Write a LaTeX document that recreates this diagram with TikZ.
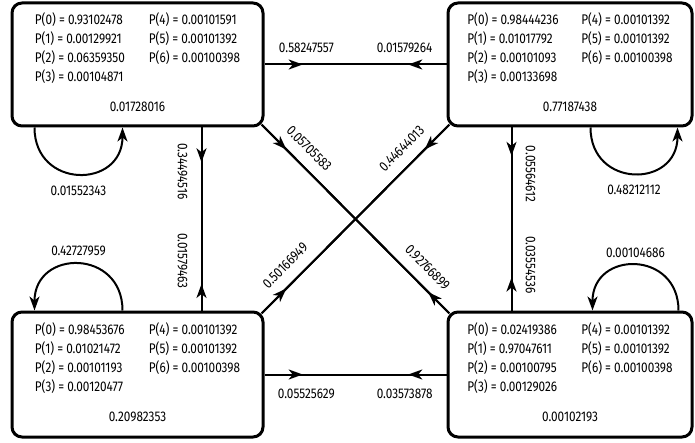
\documentclass[tikz,border=0pt]{standalone}
\usepackage{fontspec}
\setmainfont[FakeStretch=0.84]{Fira Sans}
\usepackage{tikz}
\usetikzlibrary{arrows.meta}
\usetikzlibrary{decorations.markings}

\newcommand{\statetext}[8]{%
  \raisebox{-2pt}{\begin{tabular}{@{}p{114pt}@{}l@{}}
    P(0) = #1 & P(4) = #5\\
    P(1) = #2 & P(5) = #6\\
    P(2) = #3 & P(6) = #7\\
    P(3) = #4 & \\[11pt]
    \multicolumn{2}{c}{#8}
  \end{tabular}}}

\begin{document}
\begin{tikzpicture}[x=1pt,y=1pt,font=\fontsize{14}{19}\selectfont,
	statebox/.style={draw,line width=3pt,rounded corners=10pt,minimum width=244pt,minimum height=123pt,inner sep=0pt},
	link/.style={line width=2pt},
	headat/.style={postaction={decorate},decoration={markings,mark=at position #1 with {\arrow{Stealth[length=14pt,width=10pt,inset=4pt]}}}},
	lab/.style={inner sep=0pt}]
	\useasboundingbox (0,0) rectangle (695,-443);
	% states
	\node[statebox,minimum width=251pt] (s0) at (137.5,-64.5) {\statetext{0.93102478}{0.00129921}{0.06359350}{0.00104871}{0.00101591}{0.00101392}{0.00100398}{0.01728016}};
	\node[statebox] (s1) at (570,-64.5) {\statetext{0.98444236}{0.01017792}{0.00101093}{0.00133698}{0.00101392}{0.00101392}{0.00100398}{0.77187438}};
	\node[statebox,minimum width=251pt,minimum height=125pt] (s2) at (137.5,-374.5) {\statetext{0.98453676}{0.01021472}{0.00101193}{0.00120477}{0.00101392}{0.00101392}{0.00100398}{0.20982353}};
	\node[statebox,minimum height=125pt] (s3) at (570,-374.5) {\statetext{0.02419386}{0.97047611}{0.00100795}{0.00129026}{0.00101392}{0.00101392}{0.00100398}{0.00102193}};
	% horizontal links
	\draw[link,headat=0.21] (s0) -- node[lab,pos=0.23,above=11pt] {0.58247557} (s1);
	\draw[link,headat=0.21] (s1) -- node[lab,pos=0.23,above=11pt] {0.01579264} (s0);
	\draw[link,headat=0.21] (s2) -- node[lab,pos=0.23,below=13pt] {0.05525629} (s3);
	\draw[link,headat=0.21] (s3) -- node[lab,pos=0.23,below=13pt] {0.03573878} (s2);
	% vertical links
	\draw[link,headat=0.19] ([xshift=-63pt]s0.south east) -- node[lab,pos=0.24,xshift=-19pt,rotate=-90] {0.34494516} ([xshift=-63pt]s2.north east);
	\draw[link,headat=0.145] ([xshift=-63pt]s2.north east) -- node[lab,pos=0.27,xshift=-19pt,rotate=-90] {0.01579463} ([xshift=-63pt]s0.south east);
	\draw[link,headat=0.155] ([xshift=65pt]s1.south west) -- node[lab,pos=0.255,xshift=19pt,rotate=-90] {0.05564612} ([xshift=65pt]s3.north west);
	\draw[link,headat=0.18] ([xshift=65pt]s3.north west) -- node[lab,pos=0.25,xshift=19pt,rotate=-90] {0.03554536} ([xshift=65pt]s1.south west);
	% diagonal links
	\draw[link,headat=0.12,shorten <=-4pt,shorten >=-4pt] (s0.south east) -- node[lab,pos=0.18,sloped,above=11pt] {0.05705583} (s3.north west);
	\draw[link,headat=0.10,shorten <=-4pt,shorten >=-4pt] (s3.north west) -- node[lab,pos=0.17,sloped,above=11pt] {0.92766899} (s0.south east);
	\draw[link,headat=0.12,shorten <=-4pt,shorten >=-4pt] (s2.north east) -- node[lab,pos=0.18,sloped,above=11pt] {0.50166949} (s1.south west);
	\draw[link,headat=0.12,shorten <=-4pt,shorten >=-4pt] (s1.south west) -- node[lab,pos=0.18,sloped,above=11pt] {0.44644013} (s2.north east);
	% self loops
	\draw[link,-{Stealth[length=14pt,width=10pt,inset=4pt]}] ([xshift=24pt]s0.south west) to[out=-90,in=-90,looseness=1.8] node[lab,below=11pt] {0.01552343} ([xshift=112pt]s0.south west);
	\draw[link,-{Stealth[length=14pt,width=10pt,inset=4pt]}] ([xshift=112pt]s2.north west) to[out=90,in=90,looseness=1.8] node[lab,above=7pt] {0.42727959} ([xshift=24pt]s2.north west);
	\draw[link,-{Stealth[length=14pt,width=10pt,inset=4pt]}] ([xshift=-103pt]s1.south east) to[out=-90,in=-90,looseness=1.8] node[lab,below=11pt] {0.48212112} ([xshift=-16pt]s1.south east);
	\draw[link,-{Stealth[length=14pt,width=10pt,inset=4pt]}] ([xshift=-15pt]s3.north east) to[out=90,in=90,looseness=1.8] node[lab,above=7pt] {0.00104686} ([xshift=-101pt]s3.north east);
\end{tikzpicture}
\end{document}
